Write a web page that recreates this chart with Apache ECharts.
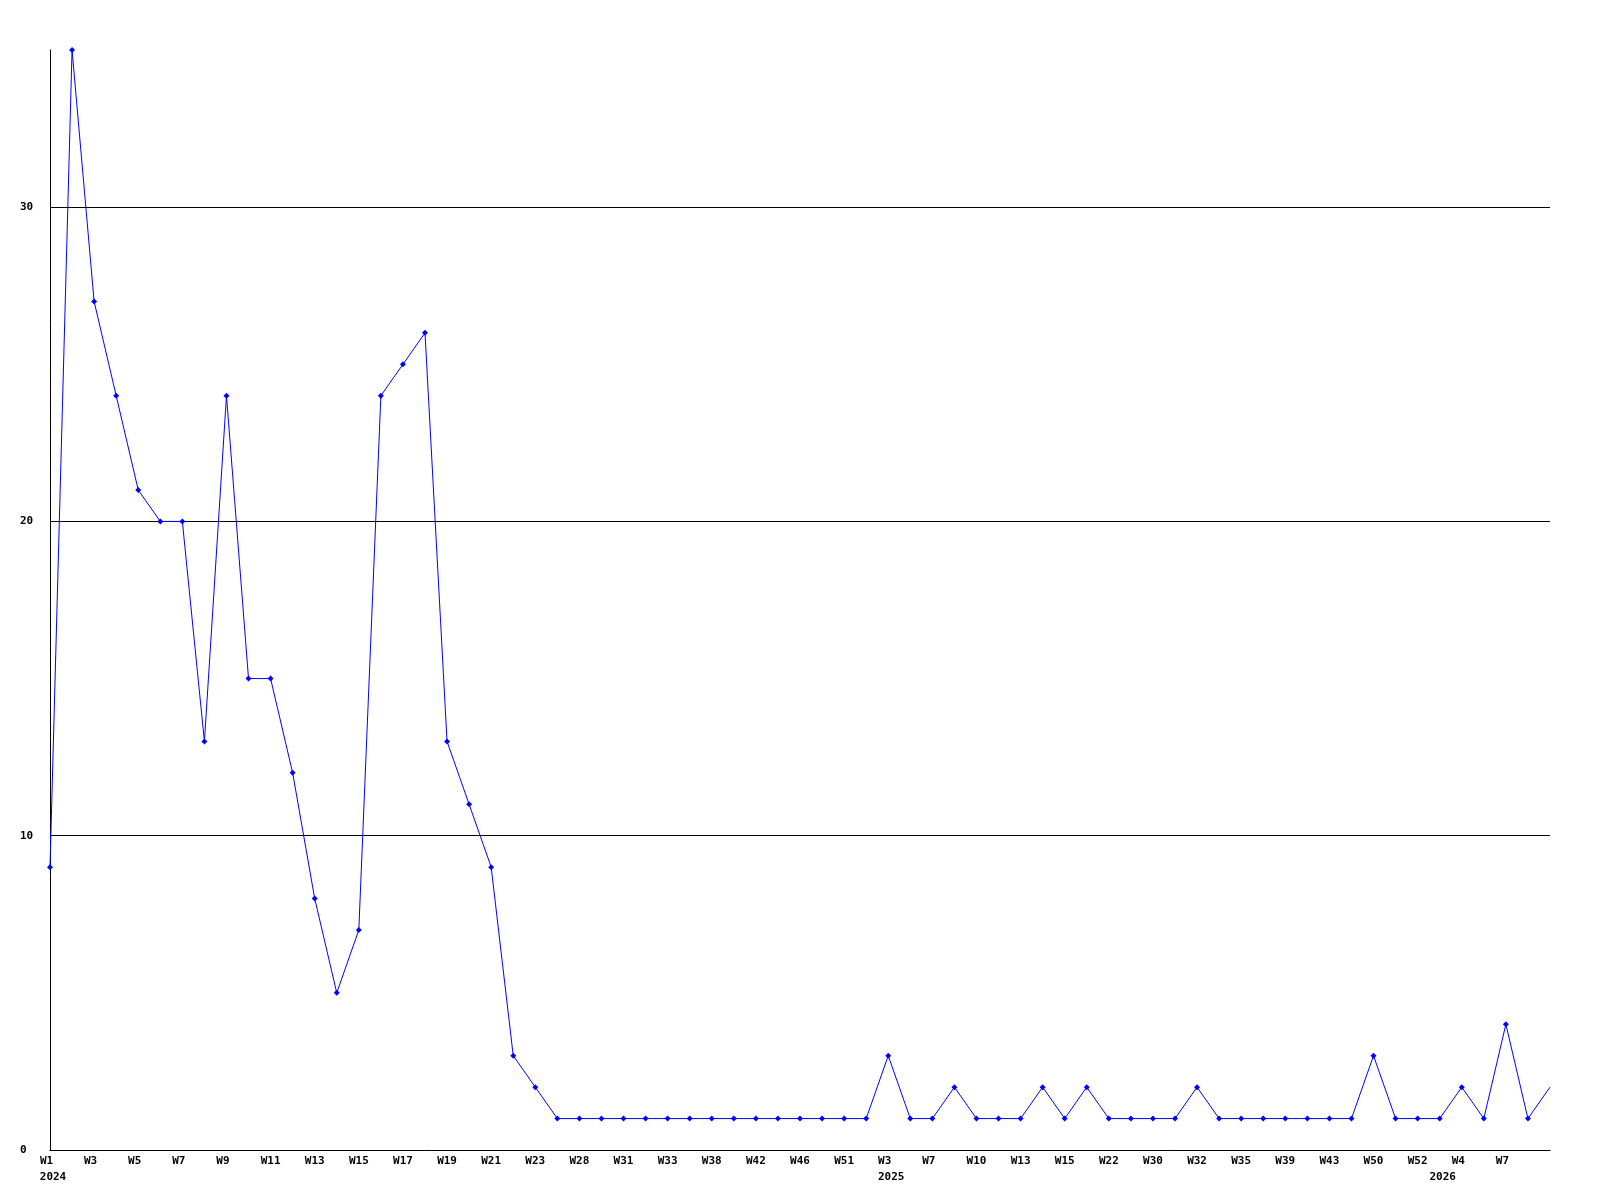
<!DOCTYPE html>
<html>
<head>
<meta charset="utf-8">
<script src="https://cdn.jsdelivr.net/npm/echarts@6/dist/echarts.min.js"></script>
<style>
  html, body { margin: 0; padding: 0; background: #fff; }
  #chart { width: 1600px; height: 1200px; }
</style>
</head>
<body>
<div id="chart"></div>
<script>
// Week tick labels (only every other point is labelled in the source)
const weekLabels = [
  'W1','', 'W3','', 'W5','', 'W7','', 'W9','', 'W11','', 'W13','', 'W15','', 'W17','',
  'W19','', 'W21','', 'W23','', 'W28','', 'W31','', 'W33','', 'W38','', 'W42','',
  'W46','', 'W51','', 'W3','', 'W7','', 'W10','', 'W13','', 'W15','', 'W22','',
  'W30','', 'W32','', 'W35','', 'W39','', 'W43','', 'W50','', 'W52','', 'W4','',
  'W7','', ''
];
// Year labels and the category index they sit under
const yearNames = ['2024', '2025', '2026'];
const yearIndex = [0, 38, 63];
// Series values
const values = [
  9, 35, 27, 24, 21, 20, 20, 13, 24, 15, 15, 12, 8, 5, 7, 24, 25, 26, 13, 11, 9, 3, 2, 1,
  1, 1, 1, 1, 1, 1, 1, 1, 1, 1, 1, 1, 1, 1,
  3, 1, 1, 2, 1, 1, 1, 2, 1, 2, 1, 1, 1, 1, 2, 1, 1, 1, 1, 1, 1, 1, 3, 1, 1, 1, 2, 1, 4, 1, 2
];
const yTicks = [0, 10, 20, 30];

const categories = weekLabels.map((w, i) => String(i));
const seriesData = values.map((v, i) => i === values.length - 1 ? { value: v, symbol: 'none' } : v);

const font = '"DejaVu Sans Mono", "Liberation Mono", monospace';
const baseText = { color: '#000', fontFamily: font, fontWeight: 'bold', fontSize: 11, lineHeight: 16 };
const chart = echarts.init(document.getElementById('chart'), null, { renderer: 'canvas' });
chart.setOption({
  animation: false,
  backgroundColor: '#ffffff',
  grid: { left: 50, right: 50, top: 50, bottom: 50, containLabel: false },
  xAxis: {
    type: 'category',
    data: categories,
    boundaryGap: false,
    axisLine: { show: true, lineStyle: { color: '#000', width: 1 } },
    axisTick: { show: false },
    splitLine: { show: false },
    axisLabel: Object.assign({
      interval: 0,
      margin: 3,
      formatter: function (val, idx) {
        const w = weekLabels[idx] || '';
        const y = yearIndex.indexOf(idx);
        let s = w ? (w.length === 2 ? '{ws|' + w + '}' : '{w|' + w + '}') : '';
        if (y >= 0) s += '\n{y|' + yearNames[y] + '}';
        return s;
      },
      rich: {
        w: Object.assign({}, baseText),
        ws: Object.assign({ padding: [0, 7, 0, 0] }, baseText),
        y: Object.assign({ padding: [0, 0, 0, 6] }, baseText)
      }
    }, baseText)
  },
  yAxis: {
    type: 'value',
    min: 0,
    max: 35,
    interval: 10,
    axisLine: { show: true, lineStyle: { color: '#000', width: 1 } },
    axisTick: { show: false },
    splitLine: { show: true, showMinLine: false, showMaxLine: false, lineStyle: { color: '#000', width: 1 } },
    axisLabel: {
      showMaxLabel: false,
      align: 'left',
      margin: 30,
      color: '#000',
      fontFamily: font,
      fontWeight: 'bold',
      fontSize: 11,
      formatter: function (v) { return yTicks.indexOf(v) >= 0 ? String(v) : ''; }
    }
  },
  series: [{
    type: 'line',
    data: seriesData,
    symbol: 'diamond',
    symbolSize: 6,
    showAllSymbol: true,
    lineStyle: { color: '#0000ff', width: 1 },
    itemStyle: { color: '#0000ff' }
  }]
});
</script>
</body>
</html>
